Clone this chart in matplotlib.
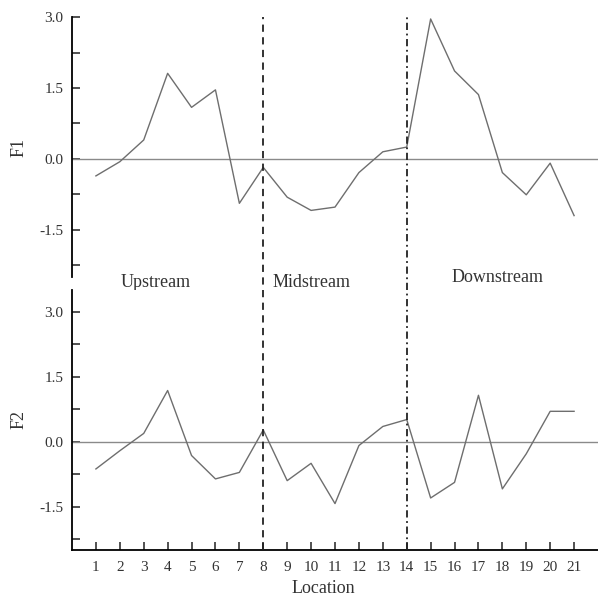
import matplotlib
matplotlib.use('Agg')
import matplotlib.pyplot as plt
import matplotlib.transforms as mtransforms
from matplotlib.lines import Line2D

plt.rcParams['font.family'] = ['Liberation Serif', 'DejaVu Serif']

locations = list(range(1, 22))
f1 = [-0.36, -0.06, 0.40, 1.81, 1.09, 1.46, -0.94, -0.18, -0.81, -1.09, -1.02,
      -0.29, 0.15, 0.25, 2.96, 1.86, 1.36, -0.29, -0.76, -0.09, -1.20]
f2 = [-0.63, -0.21, 0.19, 1.18, -0.32, -0.86, -0.71, 0.27, -0.90, -0.50, -1.43,
      -0.09, 0.35, 0.51, -1.30, -0.94, 1.07, -1.09, -0.28, 0.70, 0.70]
yticks = [-1.5, 0.0, 1.5, 3.0]
minor_ticks = [-2.25, -0.75, 0.75, 2.25]
zones = ['Upstream', 'Midstream', 'Downstream']
zone_x = [3.5, 10, 17.8]
zone_y = [-2.62, -2.62, -2.5]
split_dash = 8
split_dashdot = 14

fig = plt.figure(figsize=(5.98, 6.01), dpi=100)
ax1 = fig.add_axes([0.1204, 0.539, 0.8796, 0.4326])
ax2 = fig.add_axes([0.1204, 0.0849, 0.8796, 0.4326])

line_col = '#6e6e6e'
zero_col = '#8a8a8a'

for ax, vals, lo, hi, lab in [(ax1, f1, -2.5, 3.0, 'F1'), (ax2, f2, -2.5, 3.5, 'F2')]:
    ax.axhline(0, color=zero_col, lw=1.0)
    ax.plot(locations, vals, color=line_col, lw=1.0)
    ax.set_xlim(0, 22)
    ax.set_ylim(lo, hi)
    ax.set_yticks(yticks)
    ax.set_yticklabels(['%.1f' % v for v in yticks])
    ax.set_yticks(minor_ticks, minor=True)
    ax.spines['top'].set_visible(False)
    ax.spines['right'].set_visible(False)
    ax.spines['left'].set_linewidth(1.3)
    ax.tick_params(axis='y', which='both', direction='in', length=6, width=1.2,
                   labelsize=11, pad=6, colors='#333333')
    ax.set_ylabel(lab, fontsize=13, labelpad=9, color='#333333')

ax1.spines['bottom'].set_visible(False)
ax1.tick_params(axis='x', bottom=False, labelbottom=False)

ax2.spines['bottom'].set_linewidth(1.3)
ax2.set_xticks(locations)
ax2.tick_params(axis='x', direction='in', length=6, width=1.2, labelsize=11,
                pad=8, colors='#333333')
ax2.set_xlabel('Location', fontsize=13, color='#333333')
ax2.xaxis.set_label_coords(0.477, -0.115)

for name, x, y in zip(zones, zone_x, zone_y):
    ax1.text(x, y, name, ha='center', va='center', fontsize=13,
             color='#333333', clip_on=False)

# vertical separators spanning both panels
trans = mtransforms.blended_transform_factory(ax2.transData, fig.transFigure)
y_bot = ax2.get_position().y0
y_top = ax1.get_position().y1
fig.add_artist(Line2D([split_dash, split_dash], [y_bot, y_top], transform=trans,
                      color='#222222', lw=1.3, linestyle=(0, (4, 3))))
fig.add_artist(Line2D([split_dashdot, split_dashdot], [y_bot, y_top], transform=trans,
                      color='#222222', lw=1.3, linestyle=(0, (4, 2, 1, 2))))

fig.savefig('out.png', dpi=100)
